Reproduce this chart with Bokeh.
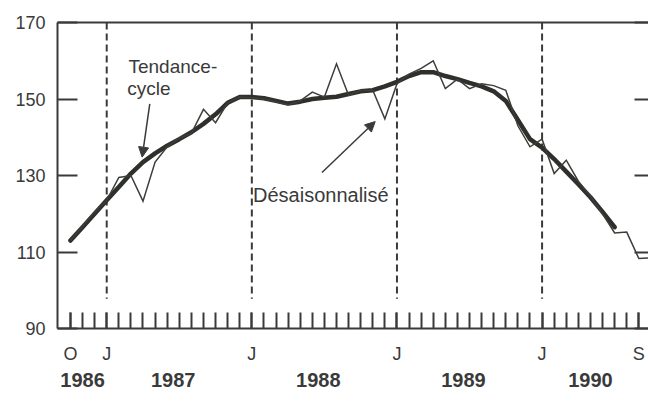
from bokeh.plotting import figure
from bokeh.models import Range1d, LinearAxis, FixedTicker, Label, Arrow, NormalHead
from bokeh.embed import file_html
from bokeh.resources import INLINE

# ---------------- data ----------------
# month index: 0 = October 1986 ... 47 = September 1990, 48 = October 1990
month_index = list(range(49))

trend_cycle = [
    113.0, 116.5, 120.0, 123.5, 127.0, 130.5, 133.5, 135.8, 137.8, 139.5,
    141.3, 143.5, 146.0, 149.0, 150.5, 150.5, 150.2, 149.5, 148.8, 149.3,
    150.0, 150.3, 150.6, 151.3, 152.0, 152.3, 153.3, 154.5, 156.0, 157.0,
    157.0, 156.0, 155.2, 154.2, 153.3, 152.0, 149.5, 144.5, 139.5, 137.3,
    134.3, 131.0, 127.7, 124.3, 120.5, 116.5,
]

seasonally_adjusted = [
    113.0, 116.8, 120.5, 123.5, 129.5, 130.0, 123.3, 133.5, 137.5, 139.8,
    141.0, 147.3, 143.8, 149.0, 150.5, 150.3, 150.0, 149.3, 148.5, 149.5,
    151.8, 150.5, 159.2, 151.0, 152.2, 152.3, 144.8, 154.0, 156.5, 158.0,
    160.0, 152.7, 155.2, 152.7, 154.0, 153.5, 152.3, 143.0, 137.5, 139.5,
    130.5, 134.0, 128.5, 124.5, 120.0, 115.0, 115.2, 108.3, 108.5,
]

labelled_months = [0, 3, 15, 27, 39, 47]
month_letters = ["O", "J", "J", "J", "J", "S"]
january_months = [3, 15, 27, 39]
years = ["1986", "1987", "1988", "1989", "1990"]
year_first_month = [0, 3, 15, 27, 39]
year_last_month = [2, 14, 26, 38, 47]
y_ticks = [90, 110, 130, 150, 170]

# ---------------- style ----------------
INK = "#3a3a3a"
LINE = "#2e302c"
THIN = "#3c3e3a"
FONT = "Liberation Sans"

p = figure(width=648, height=405, output_backend="svg", toolbar_location=None,
           x_range=Range1d(-1.07, 47.8), y_range=Range1d(90, 170),
           x_axis_type=None, y_axis_type=None,
           min_border_left=57, min_border_right=0, min_border_top=22,
           min_border_bottom=77)
p.outline_line_color = None
p.background_fill_color = "white"
p.border_fill_color = "white"

# left axis
yl = LinearAxis(ticker=FixedTicker(ticks=y_ticks), major_tick_in=20, major_tick_out=0,
                minor_tick_line_color=None, axis_line_width=2, axis_line_color=INK,
                major_tick_line_width=2, major_tick_line_color=INK,
                major_label_text_font=FONT, major_label_text_font_size="18px",
                major_label_text_color=INK, major_label_standoff=12)
p.add_layout(yl, "left")

# right axis (ticks only, drawn as minor ticks so no labels are produced)
yr = LinearAxis(ticker=FixedTicker(ticks=[], minor_ticks=y_ticks),
                minor_tick_in=14, minor_tick_out=0,
                major_tick_line_color=None, axis_line_color=None,
                minor_tick_line_width=2, minor_tick_line_color=INK,
                major_label_standoff=0)
p.add_layout(yr, "right")

# top spine
top = LinearAxis(ticker=FixedTicker(ticks=[]), axis_line_width=2, axis_line_color=INK,
                 major_tick_line_color=None, minor_tick_line_color=None,
                 major_label_standoff=0)
p.add_layout(top, "above")

# month axis: every month ticked, only some labelled
mx = LinearAxis(ticker=FixedTicker(ticks=labelled_months, minor_ticks=month_index),
                major_tick_in=16, major_tick_out=0,
                minor_tick_in=16, minor_tick_out=0,
                axis_line_width=2, axis_line_color=INK,
                major_tick_line_width=2, major_tick_line_color=INK,
                minor_tick_line_width=2, minor_tick_line_color=INK,
                major_label_overrides=dict(zip(labelled_months, month_letters)),
                major_label_text_font=FONT, major_label_text_font_size="18px",
                major_label_text_color=INK, major_label_standoff=15)
p.add_layout(mx, "below")

# year axis
year_centers = [(a + b) / 2 for a, b in zip(year_first_month, year_last_month)]
yx = LinearAxis(ticker=FixedTicker(ticks=year_centers), major_tick_line_color=None,
                minor_tick_line_color=None, axis_line_color=None,
                major_label_overrides=dict(zip(year_centers, years)),
                major_label_text_font=FONT, major_label_text_font_size="20px",
                major_label_text_font_style="bold", major_label_text_color=INK,
                major_label_standoff=0)
p.add_layout(yx, "below")

# January dashed lines
dash_bottom = 97.8
p.segment(x0=january_months, y0=[170] * len(january_months),
          x1=january_months, y1=[dash_bottom] * len(january_months),
          line_color=INK, line_width=2, line_dash="7 4")

# series
p.line(month_index[:len(trend_cycle)], trend_cycle, line_color=LINE, line_width=4.5,
       line_join="round", line_cap="round")
p.line(month_index, seasonally_adjusted, line_color=THIN, line_width=1.5,
       line_join="miter")

# annotations
for txt, xx, yy, fs in [("Tendance-", 4.8, 158.5, "19px"), ("cycle", 4.7, 152.7, "19px"),
                        ("Désaisonnalisé", 15.1, 124.8, "20px")]:
    p.add_layout(Label(x=xx, y=yy, text=txt, text_font=FONT, text_font_size=fs,
                       text_color=INK, text_baseline="alphabetic"))

p.add_layout(Arrow(end=NormalHead(size=10, fill_color=INK, line_color=INK),
                   x_start=6.56, y_start=148.7, x_end=5.93, y_end=134.8,
                   line_color=INK, line_width=1.5))
p.add_layout(Arrow(end=NormalHead(size=10, fill_color=INK, line_color=INK),
                   x_start=20.8, y_start=130.8, x_end=25.2, y_end=144.1,
                   line_color=INK, line_width=1.5))

open("out.html", "w").write(file_html(p, INLINE))
